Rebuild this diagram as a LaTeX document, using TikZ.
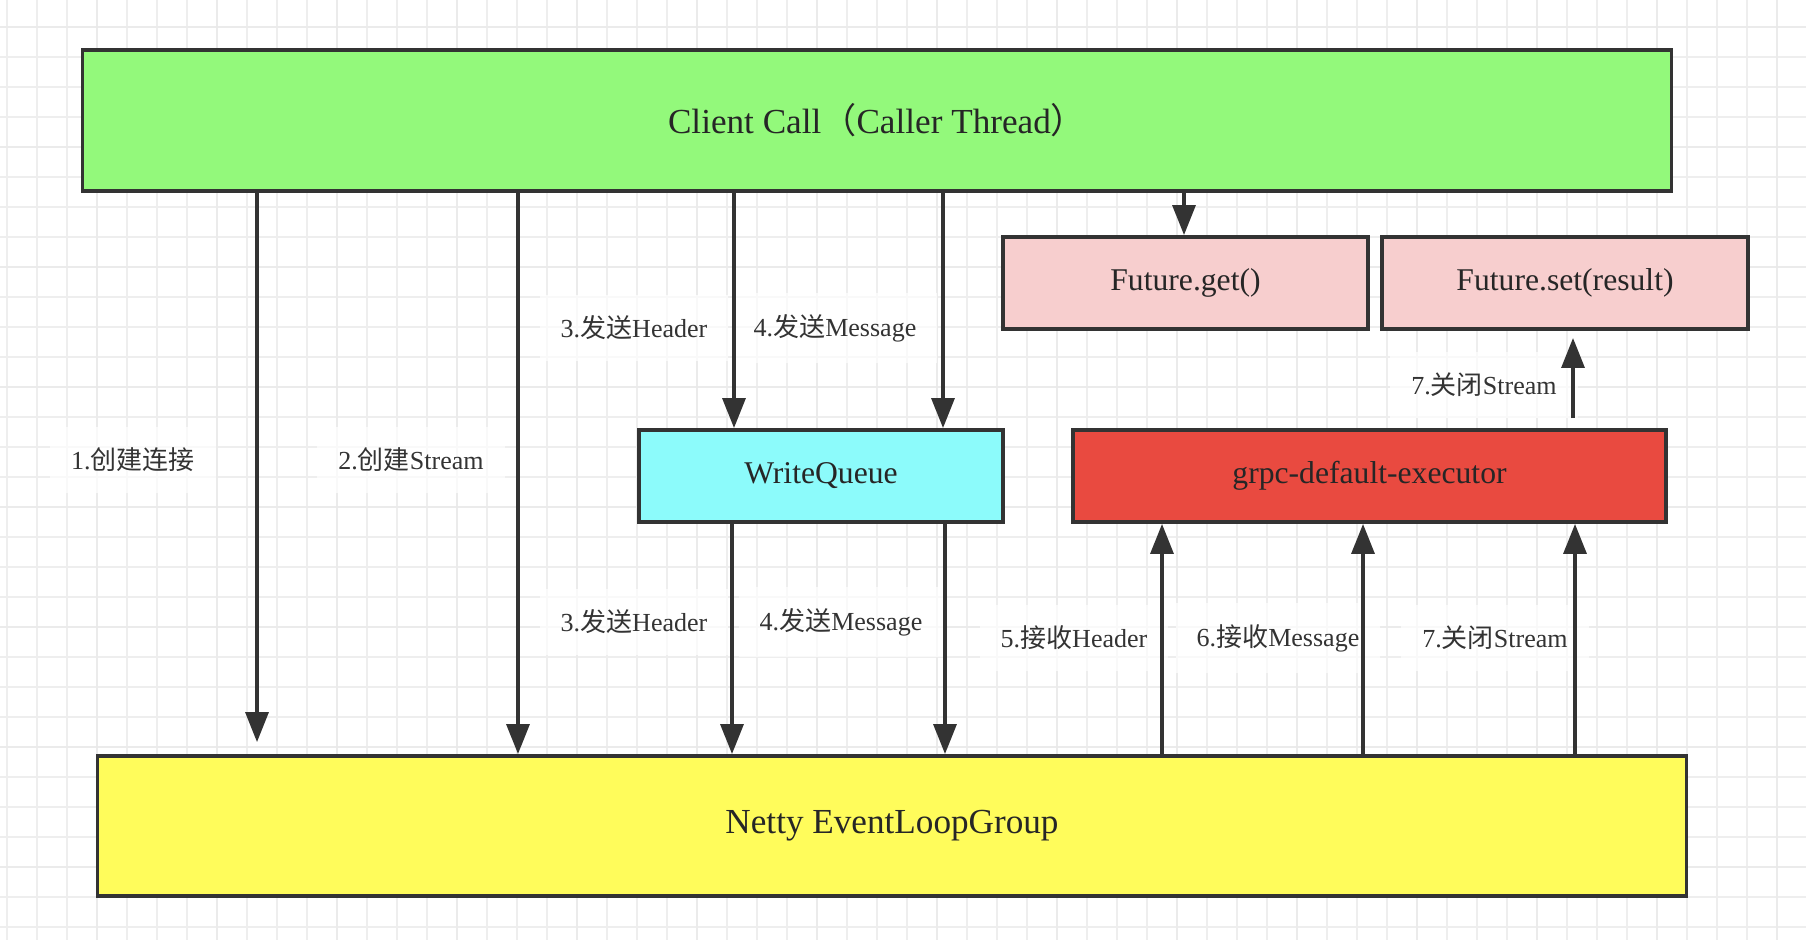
\documentclass[tikz,border=0pt]{standalone}
\usepackage{fontspec}
\setmainfont{Liberation Serif}
\newfontfamily\cjk{Noto Sans CJK SC}
\usetikzlibrary{arrows.meta, positioning}

\definecolor{clientgreen}{HTML}{93F97B}
\definecolor{futurepink}{HTML}{F7CECE}
\definecolor{queuecyan}{HTML}{8CFBFB}
\definecolor{execred}{HTML}{E94A40}
\definecolor{nettyyellow}{HTML}{FFFC5B}
\definecolor{linegray}{HTML}{333333}
\definecolor{gridgray}{HTML}{EEEEEE}

\begin{document}
\begin{tikzpicture}[x=0.01cm, y=-0.01cm,
    box/.style={draw=linegray, line width=1.1pt, inner sep=0pt, text=black!85},
    arr/.style={draw=linegray, line width=1pt, -{Triangle[length=8.5pt,width=6.5pt]}},
    lbl/.style={font=\fontsize{7.4}{9}\selectfont, text=linegray, fill=white, fill opacity=0.7, text opacity=1, inner xsep=6pt, inner ysep=6pt}]
    \useasboundingbox (0,0) rectangle (1806,940);
    \fill[white] (0,0) rectangle (1806,940);
    % grid
    \foreach \gx in {7,37,...,1807} \draw[gridgray, line width=0.4pt] (\gx,0) -- (\gx,940);
    \foreach \gy in {27,57,...,937} \draw[gridgray, line width=0.4pt] (0,\gy) -- (1806,\gy);
    \foreach \gx in {97,217,...,1777} \draw[gridgray!90!black!60, line width=0.8pt, opacity=0.35] (\gx,0) -- (\gx,940);
    \foreach \gy in {27,147,...,927} \draw[gridgray!90!black!60, line width=0.8pt, opacity=0.35] (0,\gy) -- (1806,\gy);

    % boxes
    \node[box, fill=clientgreen, minimum width=15.88cm, minimum height=1.41cm, font=\fontsize{10}{12}\selectfont] (client) at (877,120.5) {Client Call{\cjk（}Caller Thread{\cjk）}};
    \node[box, fill=futurepink, minimum width=3.65cm, minimum height=0.92cm, font=\fontsize{9}{11}\selectfont] (fget) at (1185.5,283) {\raisebox{-0.8pt}{Future.get()}};
    \node[box, fill=futurepink, minimum width=3.66cm, minimum height=0.92cm, font=\fontsize{9}{11}\selectfont] (fset) at (1565,283) {\raisebox{-0.8pt}{Future.set(result)}};
    \node[box, fill=queuecyan, minimum width=3.64cm, minimum height=0.92cm, font=\fontsize{9}{11}\selectfont] (wq) at (821,476) {\raisebox{-0.8pt}{WriteQueue}};
    \node[box, fill=execred, minimum width=5.93cm, minimum height=0.92cm, font=\fontsize{9}{11}\selectfont] (exec) at (1369.5,476) {\raisebox{-0.8pt}{grpc-default-executor}};
    \node[box, fill=nettyyellow, minimum width=15.88cm, minimum height=1.40cm, font=\fontsize{10}{12}\selectfont] (netty) at (892,826) {\raisebox{-1pt}{Netty EventLoopGroup}};

    % labels
    \node[lbl] (l1) at (133,460) {1.{\cjk 创建连接}};
    \node[lbl] (l2) at (411,460) {2.{\cjk 创建}Stream};
    \node[lbl] (l3a) at (634,328) {3.{\cjk 发送}Header};
    \node[lbl] (l4a) at (835,328) {4.{\cjk 发送}Message};
    \node[lbl] (l3b) at (634,622) {3.{\cjk 发送}Header};
    \node[lbl] (l4b) at (841,622) {4.{\cjk 发送}Message};
    \node[lbl] (l5) at (1074,638) {5.{\cjk 接收}Header};
    \node[lbl] (l6) at (1278,638) {6.{\cjk 接收}Message};
    \node[lbl] (l7b) at (1495,638) {7.{\cjk 关闭}Stream};
    \node[lbl] (l7a) at (1484,385) {7.{\cjk 关闭}Stream};

    % connectors
    \draw[arr, shorten >=3.4pt] (client.south -| 257,0) -- (netty.north -| 257,0);
    \draw[arr] (client.south -| 518,0) -- (netty.north -| 518,0);
    \draw[arr] (client.south -| 734,0) -- (wq.north -| 734,0);
    \draw[arr] (client.south -| 943,0) -- (wq.north -| 943,0);
    \draw[arr] (client.south -| 1184,0) -- (fget.north -| 1184,0);
    \draw[arr] (wq.south -| 732,0) -- (netty.north -| 732,0);
    \draw[arr] (wq.south -| 945,0) -- (netty.north -| 945,0);
    \draw[arr] (netty.north -| 1162,0) -- (exec.south -| 1162,0);
    \draw[arr] (netty.north -| 1363,0) -- (exec.south -| 1363,0);
    \draw[arr] (netty.north -| 1575,0) -- (exec.south -| 1575,0);
    \draw[arr, shorten <=2.8pt, shorten >=2pt] (exec.north -| 1573,0) -- (fset.south -| 1573,0);
\end{tikzpicture}
\end{document}
